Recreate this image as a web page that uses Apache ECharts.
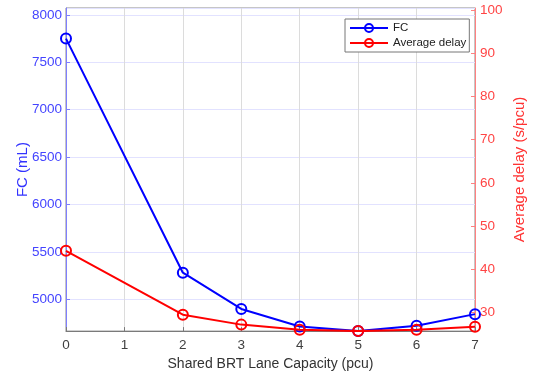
<!DOCTYPE html>
<html>
<head>
<meta charset="utf-8">
<script src="https://cdn.jsdelivr.net/npm/echarts@6/dist/echarts.min.js"></script>
<style>html,body{margin:0;padding:0;background:#fff}#c{width:535px;height:376px}</style>
</head>
<body>
<div id="c"></div>
<script>
const capacity = [0, 2, 3, 4, 5, 6, 7];
const fc = [7750, 5280, 4898, 4713, 4664, 4720, 4843];
const delay = [44.3, 29.5, 27.2, 26.0, 25.7, 26.0, 26.7];
const xTicks = [0, 1, 2, 3, 4, 5, 6, 7];

const chart = echarts.init(document.getElementById('c'));
const font = 'Liberation Sans, Arial, sans-serif';
chart.setOption({
  animation: false,
  backgroundColor: '#fff',
  grid: { left: 66, right: 58, top: 8, bottom: 43, show: true, borderColor: '#8c8c8c', borderWidth: 1, backgroundColor: 'transparent' },
  legend: {
    orient: 'vertical', left: 345, top: 19,
    backgroundColor: '#fff', borderColor: '#777', borderWidth: 1,
    padding: [3, 3, 3, 4], itemGap: 3, itemWidth: 38, itemHeight: 10,
    textStyle: { fontFamily: font, fontSize: 11.5, color: '#222' },
    data: ['FC', 'Average delay']
  },
  xAxis: {
    type: 'value', min: xTicks[0], max: xTicks[xTicks.length - 1], interval: 1,
    name: 'Shared BRT Lane Capacity (pcu)', nameLocation: 'middle', nameGap: 22,
    nameTextStyle: { fontFamily: font, fontSize: 14, color: '#333' },
    axisLine: { lineStyle: { color: '#7a7a7a', width: 1 } },
    axisTick: { inside: true, length: 4, lineStyle: { color: '#7a7a7a' } },
    axisLabel: { fontFamily: font, fontSize: 13.5, color: '#404040', margin: 7 },
    splitLine: { show: true, lineStyle: { color: '#dcdcdc', width: 1 } }
  },
  yAxis: [
    {
      type: 'value', position: 'left', min: 4664, max: 8073, splitNumber: 7,
      name: 'FC (mL)', nameLocation: 'middle', nameGap: 36, nameMoveOverlap: false,
      nameTextStyle: { fontFamily: font, fontSize: 15, color: '#3333ff' },
      axisLine: { show: true, lineStyle: { color: '#7f7fff', width: 1 } },
      axisTick: { show: true, inside: true, length: 4, lineStyle: { color: '#7f7fff' } },
      axisLabel: { fontFamily: font, fontSize: 13.5, color: '#4444ff', margin: 4, showMinLabel: false, showMaxLabel: false,
        formatter: v => String(Math.round(v)) },
      splitLine: { show: true, lineStyle: { color: '#e2e2ff', width: 1 } }
    },
    {
      type: 'value', position: 'right', min: 25.7, max: 100.5, splitNumber: 8,
      name: 'Average delay (s/pcu)', nameLocation: 'middle', nameGap: 37, nameMoveOverlap: false,
      nameTextStyle: { fontFamily: font, fontSize: 15, color: '#ff3333' },
      axisLine: { show: true, lineStyle: { color: '#ff8080', width: 1 } },
      axisTick: { show: true, inside: true, length: 4, lineStyle: { color: '#ff8080' } },
      axisLabel: { fontFamily: font, fontSize: 13.5, color: '#ff4444', margin: 5, showMinLabel: false, showMaxLabel: false,
        formatter: v => String(Math.round(v)) },
      splitLine: { show: false }
    }
  ],
  series: [
    {
      name: 'FC', type: 'line', yAxisIndex: 0,
      data: capacity.map((x, i) => [x, fc[i]]),
      symbol: 'circle', symbolSize: 10,
      lineStyle: { color: '#0000ff', width: 2 },
      itemStyle: { color: 'rgba(255,255,255,0)', borderColor: '#0000ff', borderWidth: 2 },
      z: 3
    },
    {
      name: 'Average delay', type: 'line', yAxisIndex: 1,
      data: capacity.map((x, i) => [x, delay[i]]),
      symbol: 'circle', symbolSize: 10,
      lineStyle: { color: '#ff0000', width: 2 },
      itemStyle: { color: 'rgba(255,255,255,0)', borderColor: '#ff0000', borderWidth: 2 },
      z: 4
    }
  ]
});
</script>
</body>
</html>
